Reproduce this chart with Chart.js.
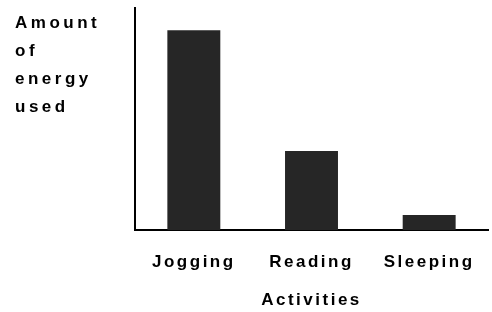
<!DOCTYPE html>
<html>
<head>
<meta charset="utf-8">
<script src="https://cdn.jsdelivr.net/npm/chart.js@4.4.0/dist/chart.umd.min.js"></script>
<style>
  body { margin: 0; background: #fff; }
  .wrap { position: relative; width: 492px; height: 312px; }
  #ytitle {
    position: absolute; left: 15px; top: 9px;
    font: bold 17px "Liberation Sans", Arial, sans-serif;
    letter-spacing: 3.5px; line-height: 28px; color: #000;
  }
</style>
</head>
<body>
<div class="wrap">
  <canvas id="chart" width="492" height="312"></canvas>
  <div id="ytitle">Amount<br>of<br>energy<br>used</div>
</div>
<script>
// categories and values (no scale shown, arbitrary units)
const activities = ['Jogging', 'Reading', 'Sleeping'];
const energyUsed = [9.0, 3.56, 0.68];
const yMax = 10;

// spaced-out lettering like the scan
const spacing = {
    id: 'spacing',
    beforeDraw(chart) {
        chart.ctx.letterSpacing = '2.5px';
    }
};

new Chart(document.getElementById('chart'), {
    type: 'bar',
    data: {
        labels: activities,
        datasets: [{
            data: energyUsed,
            backgroundColor: '#262626',
            borderWidth: 0,
            barPercentage: 0.45,
            categoryPercentage: 1
        }]
    },
    options: {
        responsive: false,
        animation: false,
        layout: {
            padding: { left: 127, right: 4, top: 8, bottom: 1 }
        },
        plugins: {
            legend: { display: false },
            tooltip: { enabled: false }
        },
        scales: {
            x: {
                grid: { display: false },
                border: { color: '#000', width: 2 },
                ticks: {
                    color: '#000',
                    padding: 14,
                    font: { family: 'Liberation Sans', size: 17, weight: 'bold' }
                },
                title: {
                    display: true,
                    text: 'Activities',
                    color: '#000',
                    padding: { top: 4, bottom: 0 },
                    font: { family: 'Liberation Sans', size: 17, weight: 'bold' }
                }
            },
            y: {
                min: 0,
                max: yMax,
                grid: { display: false },
                border: { color: '#000', width: 2 },
                ticks: { display: false }
            }
        }
    },
    plugins: [spacing]
});
</script>
</body>
</html>
